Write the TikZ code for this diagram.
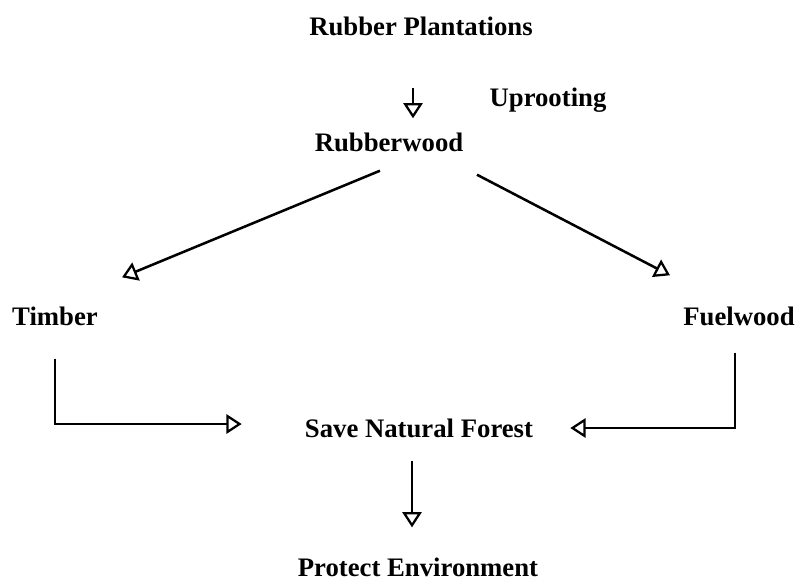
\documentclass[tikz,border=0pt]{standalone}
\usepackage{fontspec}
\setmainfont{Liberation Serif}
\usetikzlibrary{
	arrows.meta,
	calc
}

\begin{document}
\begin{tikzpicture}[x=0.025cm, y=-0.025cm,
    txt/.style={inner sep=0pt, font=\fontsize{19}{22}\selectfont\bfseries},
    arr/.style={line width=1.8pt, -{Triangle[open, length=3.8mm, width=4.8mm, line width=1.6pt]}}]
                \useasboundingbox (0,0) rectangle (798,581);
                % labels
                \node[txt] (rubber) at (421,26) {Rubber Plantations};
                \node[txt] (uproot) at (548,100) {Uprooting};
                \node[txt] (wood) at (389,142) {Rubberwood};
                \node[txt] (timber) at (55,316) {Timber};
                \node[txt] (fuel) at (739,316) {Fuelwood};
                \node[txt] (save) at (419,428) {Save Natural Forest};
                \node[txt] (protect) at (418,567) {Protect Environment};
                % arrows
                \draw[arr] ([shift={(-8,52)}]rubber.south) -- ([shift={(24,-14)}]wood.north);
                \draw[arr] ([shift={(-9,19)}]wood.south) -- ([shift={(67,-29)}]timber.north);
                \draw[arr] ([shift={(88,23)}]wood.south) -- ([shift={(-69,-31)}]fuel.north);
                \draw[arr] ([shift={(0,33)}]timber.south) |- ([shift={(-63,-4)}]save.west);
                \draw[arr] ([shift={(-4,27)}]fuel.south) |- ([shift={(37,0)}]save.east);
                \draw[arr] ([shift={(-7,23)}]save.south) -- ([shift={(-6,-30)}]protect.north);
            \end{tikzpicture}
\end{document}
